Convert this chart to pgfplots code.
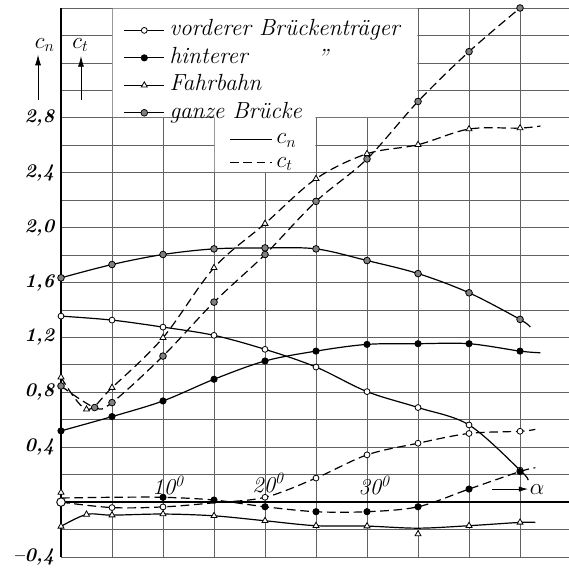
\documentclass[border=0pt]{standalone}
\usepackage{pgfplots}
\pgfplotsset{compat=1.18}
\usetikzlibrary{arrows.meta}

\definecolor{gridc}{gray}{0.38}

\pgfplotsset{
  cn/.style={black, line width=0.9pt, smooth, tension=0.55},
  ct/.style={black, line width=0.9pt, smooth, tension=0.55, dash pattern=on 6.5pt off 3.5pt},
  mv/.style={mark=*, mark size=2.2pt, mark options={solid, fill=white, line width=0.6pt}},
  mh/.style={mark=*, mark size=2.2pt, mark options={solid, fill=black}},
  mf/.style={mark=triangle*, mark size=2.6pt, mark options={solid, fill=white, line width=0.6pt}},
  mg/.style={mark=*, mark size=2.5pt, mark options={solid, fill=gray, line width=0.6pt}},
  legend image code/.code={%
    \draw[mark repeat=2, mark phase=2] plot coordinates {(0pt,0pt) (15pt,0pt) (30pt,0pt)};},
}

\begin{document}
\begin{tikzpicture}
\useasboundingbox (-45.75pt,-9pt) rectangle (381pt,417.75pt);

\begin{axis}[
  at={(0,0)}, anchor=south west,
  scale only axis, width=381pt, height=411.75pt,
  xmin=0, xmax=49.8, ymin=-0.4, ymax=3.6,
  clip=false,
  axis line style={draw=none},
  major tick length=0pt,
  xtick={0,5,...,45}, xticklabels={},
  ytick={-0.4,-0.2,0,0.2,0.4,0.6,0.8,1.0,1.2,1.4,1.6,1.8,2.0,2.2,2.4,2.6,2.8,3.0,3.2,3.4,3.6},
  yticklabels={{--0,4},{},{},{},{0,4},{},{0,8},{},{1,2},{},{1,6},{},{2,0},{},{2,4},{},{2,8},{},{},{},{}},
  yticklabel style={font=\fontsize{14.5}{14.5}\selectfont\bfseries\itshape, xshift=-1.5pt},
  grid=major, grid style={gridc, line width=0.55pt},
  legend cell align=left,
  legend style={at={(0.115,0.984)}, anchor=north west, draw=none, fill=none,
    font=\fontsize{17.5}{17.5}\selectfont\itshape, row sep=4.6pt,
    nodes={inner ysep=0pt, inner xsep=3.5pt, text height=12pt, text depth=4pt}},
]

% white area behind the legends
\fill[white] ([shift={(0.5pt,0.5pt)}]axis cs:5,2.8) -- ([shift={(0.5pt,0.5pt)}]axis cs:15,2.8)
  -- ([shift={(0.5pt,0.5pt)}]axis cs:15,2.4) -- ([shift={(-0.5pt,0.5pt)}]axis cs:25,2.4)
  -- ([shift={(-0.5pt,0.5pt)}]axis cs:25,2.8) -- ([shift={(-0.5pt,0.5pt)}]axis cs:35,2.8)
  -- ([shift={(-0.5pt,-0.5pt)}]axis cs:35,3.6) -- ([shift={(0.5pt,-0.5pt)}]axis cs:5,3.6) -- cycle;
\draw[black, line width=0.8pt] (axis cs:0,-0.4) -- (axis cs:0,3.6);
\draw[line width=1.8pt] (axis cs:0,0) -- (axis cs:49.8,0);

\addlegendimage{black, line width=0.9pt, mv}
\addlegendentry{vorderer Brückenträger}
\addlegendimage{black, line width=0.9pt, mh}
\addlegendentry{hinterer\hspace{52pt}\raisebox{-2pt}{''}}
\addlegendimage{black, line width=0.9pt, mf}
\addlegendentry{Fahrbahn}
\addlegendimage{black, line width=0.9pt, mg}
\addlegendentry{ganze Brücke}

% vorderer Brueckentraeger
\addplot[cn, mv, mark indices={1,2,3,4,5,6,7,8,9,10}, forget plot] coordinates {
  (0,1.355) (5,1.326) (10,1.275) (15,1.215) (20,1.113) (25,0.984) (30,0.805)
  (35,0.689) (40,0.562) (45,0.233) (45.8,0.160)};
\addplot[ct, mv, mark indices={1,2,3,5,6,7,8,9,10}, forget plot] coordinates {
  (0,0) (5,-0.040) (10,-0.035) (15,-0.005) (20,0.035) (25,0.175) (30,0.344)
  (35,0.429) (40,0.500) (45,0.516) (46.5,0.530)};

% hinterer Brueckentraeger
\addplot[cn, mh, mark indices={1,2,3,4,5,6,7,8,9,10}, forget plot] coordinates {
  (0,0.519) (5,0.623) (10,0.737) (15,0.895) (20,1.028) (25,1.100) (30,1.149)
  (35,1.154) (40,1.154) (45,1.100) (47,1.088)};
\addplot[ct, mh, mark indices={3,4,5,6,7,8,9,10}, forget plot] coordinates {
  (0,0.030) (5,0.035) (10,0.035) (15,0.015) (20,-0.034) (25,-0.070) (30,-0.070)
  (35,-0.034) (40,0.095) (45,0.223) (46.5,0.250)};

% Fahrbahn
\addplot[cn, mf, mark indices={1,2,3,4,5,6,7,8,10,11}, forget plot] coordinates {
  (0,-0.177) (2.5,-0.090) (5,-0.095) (10,-0.087) (15,-0.100) (20,-0.136) (25,-0.172)
  (30,-0.175) (35,-0.190) (40,-0.172) (45,-0.148) (46.5,-0.148)};
\addplot[only marks, mf, forget plot] coordinates {(35,-0.233) (0,0.070)};
\addplot[ct, mf, mark indices={1,2,3,4,5,6,7,8,9,10,11}, forget plot] coordinates {
  (0,0.910) (2.5,0.676) (5,0.834) (10,1.198) (15,1.707) (20,2.029) (25,2.356)
  (30,2.538) (35,2.604) (40,2.718) (45,2.725) (47,2.740)};

% ganze Bruecke
\addplot[cn, mg, mark indices={1,2,3,4,5,6,7,8,9,10}, forget plot] coordinates {
  (0,1.634) (5,1.731) (10,1.804) (15,1.845) (20,1.852) (25,1.845) (30,1.760)
  (35,1.665) (40,1.525) (45,1.331) (46,1.275)};
\addplot[ct, mg, forget plot] coordinates {
  (0,0.846) (3.3,0.689) (5,0.725) (10,1.064) (15,1.457) (20,1.804) (25,2.191)
  (30,2.500) (35,2.919) (40,3.282) (45,3.600)};

\addplot[only marks, mark=*, mark size=3.2pt, mark options={fill=white, line width=0.7pt}, forget plot]
  coordinates {(0,0)};

% annotations
\node[font=\fontsize{17}{17}\selectfont\itshape] at (axis cs:10.5,0.12) {10\textsuperscript{0}};
\node[font=\fontsize{17}{17}\selectfont\itshape] at (axis cs:20.3,0.14) {20\textsuperscript{0}};
\node[font=\fontsize{17}{17}\selectfont\itshape] at (axis cs:30.7,0.12) {30\textsuperscript{0}};
\draw[line width=0.7pt, -{Latex[length=7pt,width=4pt]}] (axis cs:42.3,0.095) -- (axis cs:45.8,0.095)
  node[right, inner sep=1pt, font=\fontsize{17}{17}\selectfont] {$\alpha$};
\node[font=\fontsize{17}{17}\selectfont] at (axis cs:-1.6,3.33) {$c_n$};
\draw[line width=0.6pt, -{Latex[length=8pt,width=4.5pt]}] (axis cs:-2.25,2.93) -- (axis cs:-2.25,3.26);
\node[font=\fontsize{17}{17}\selectfont] at (axis cs:1.9,3.33) {$c_t$};
\draw[line width=0.6pt, -{Latex[length=8pt,width=4.5pt]}] (axis cs:1.96,2.93) -- (axis cs:1.96,3.25);
\end{axis}

\begin{axis}[
  at={(0,0)}, anchor=south west,
  scale only axis, width=381pt, height=411.75pt,
  xmin=0, xmax=49.8, ymin=-0.4, ymax=3.6,
  hide axis,
  legend cell align=left,
  legend style={at={(0.323,0.782)}, anchor=north west, draw=none, fill=none,
    font=\fontsize{17}{17}\selectfont, row sep=4.3pt,
    nodes={inner ysep=0pt, inner xsep=3pt, text height=10pt, text depth=3pt}},
  legend image code/.code={\draw (0pt,0pt) -- (31.5pt,0pt);},
]
\addlegendimage{black, line width=0.9pt}
\addlegendentry{$c_n$}
\addlegendimage{black, line width=0.9pt, dash pattern=on 6.5pt off 3.5pt}
\addlegendentry{$c_t$}
\end{axis}
\end{tikzpicture}
\end{document}
